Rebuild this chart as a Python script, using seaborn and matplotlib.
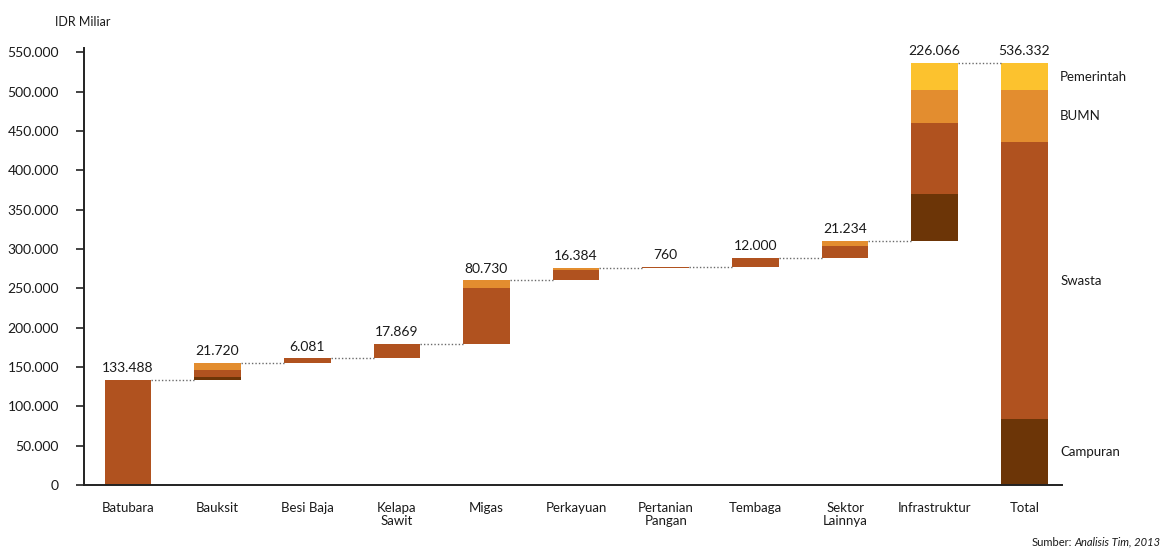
import matplotlib
matplotlib.use("Agg")
import matplotlib.pyplot as plt
import numpy as np
import pandas as pd
import seaborn as sns

# Investment by sector (IDR billion), split by ownership
categories = ["Batubara", "Bauksit", "Besi Baja", "Kelapa\nSawit", "Migas", "Perkayuan",
              "Pertanian\nPangan", "Tembaga", "Sektor\nLainnya", "Infrastruktur", "Total"]
campuran   = [0,      3500,  0,    0,     0,     0,     0,   0,     0,     58966, 83500]
swasta     = [133488, 8800,  6081, 17869, 71730, 12884, 760, 12000, 15234, 90400, 352000]
bumn       = [0,      9420,  0,    0,     9000,  3500,  0,   0,     6000,  41700, 66200]
pemerintah = [0,      0,     0,    0,     0,     0,     0,   0,     0,     35000, 34632]
value_labels = ["133.488", "21.720", "6.081", "17.869", "80.730", "16.384", "760",
                "12.000", "21.234", "226.066", "536.332"]
segment_names = ["Campuran", "Swasta", "BUMN", "Pemerintah"]
y_ticks = [0, 50000, 100000, 150000, 200000, 250000, 300000, 350000, 400000, 450000, 500000, 550000]
y_tick_labels = ["0", "50.000", "100.000", "150.000", "200.000", "250.000", "300.000",
                 "350.000", "400.000", "450.000", "500.000", "550.000"]

colors = {"Campuran": "#6C3507", "Swasta": "#B0521F", "BUMN": "#E38D2F", "Pemerintah": "#FCC22E"}

sns.set_theme(style="white")
plt.rcParams["font.family"] = ["Lato", "DejaVu Sans"]
text_color = "#1a1a1a"

layers = pd.DataFrame({"Campuran": campuran, "Swasta": swasta, "BUMN": bumn,
                       "Pemerintah": pemerintah}, index=categories)
totals = layers.sum(axis=1).to_numpy()

# Floating base of each waterfall step; the last bar starts at zero
base = np.concatenate([[0], np.cumsum(totals[:-1])[:-1], [0]]).astype(float)

fig = plt.figure(figsize=(11.67, 5.48), dpi=100)
ax = fig.add_axes([0.072, 0.115, 0.838, 0.797])

bar_w = 0.52
bottom = base.copy()
for name in segment_names:
    h = layers[name].to_numpy().astype(float)
    sns.barplot(x=categories, y=h, bottom=bottom, order=categories, color=colors[name],
                saturation=1, width=bar_w, errorbar=None, ax=ax, linewidth=0)
    bottom = bottom + h

tops = base + totals

# Dotted connectors between consecutive steps
for i in range(len(categories) - 1):
    ax.plot([i + bar_w / 2, i + 1 - bar_w / 2], [tops[i], tops[i]],
            linestyle=(0, (1, 1.5)), color="#6a6a6a", linewidth=1.0, zorder=1)

# Value labels above each bar
for i, lab in enumerate(value_labels):
    ax.text(i, tops[i] + 7000, lab, ha="center", va="bottom", fontsize=10, color=text_color)

# Ownership labels beside the total bar
cum = 0.0
last = len(categories) - 1
for name in segment_names:
    h = layers[name].iloc[last]
    ax.text(last + 0.4, cum + h / 2, name, ha="left", va="center", fontsize=9.5,
            color=text_color, clip_on=False)
    cum += h

ax.set_xlim(-0.49, 10.42)
ax.set_ylim(0, 555000)
ax.set_yticks(y_ticks)
ax.set_yticklabels(y_tick_labels, fontsize=10, color=text_color)
ax.set_xticks(range(len(categories)))
ax.set_xticklabels(categories, fontsize=9.5, color=text_color, linespacing=1.1)
ax.set_xlabel("")
ax.set_ylabel("")

for side in ["top", "right"]:
    ax.spines[side].set_visible(False)
for side in ["left", "bottom"]:
    ax.spines[side].set_color("#222222")
    ax.spines[side].set_linewidth(1.4)
ax.tick_params(axis="y", direction="out", length=6, width=1.2, color="#222222", pad=12, left=True)
ax.tick_params(axis="x", length=0, pad=12)

fig.text(55 / 1167, 1 - 22 / 548, "IDR Miliar", ha="left", va="center", fontsize=9,
         color=text_color)

# Source note, bottom right
src_italic = fig.text(1160 / 1167, 1 - 542 / 548, "Analisis Tim, 2013", ha="right",
                      va="center", fontsize=8, style="italic", color=text_color)
fig.canvas.draw()
bb = src_italic.get_window_extent()
fig.text(bb.x0 / fig.bbox.width - 0.002, 1 - 542 / 548, "Sumber:", ha="right", va="center",
         fontsize=8, color=text_color)

fig.savefig("out.png", dpi=100)
